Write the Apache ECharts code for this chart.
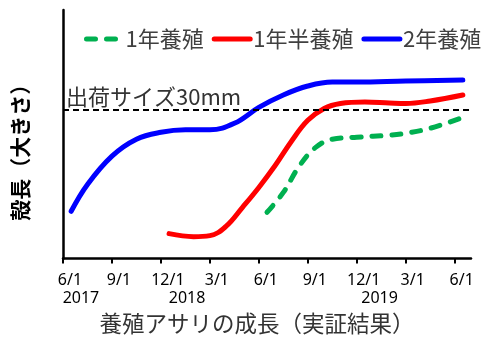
<!DOCTYPE html>
<html>
<head>
<meta charset="utf-8">
<script src="https://cdn.jsdelivr.net/npm/echarts@6/dist/echarts.min.js"></script>
<style>
  html, body { margin: 0; padding: 0; background: #fff; }
  #chart { width: 493px; height: 340px; }
</style>
</head>
<body>
<div id="chart"></div>
<script>
// Months elapsed since 2017-06-01, with shell length (mm)
const tickLabels = ['6/1', '9/1', '12/1', '3/1', '6/1', '9/1', '12/1', '3/1', '6/1'];
const yearLabels = ['2017', '2018', '2019'];
const yearLabelMonths = [1.1, 7.6, 19.4];

const seriesNames = ['1年養殖', '1年半養殖', '2年養殖'];

const oneYearMonths = [12.5, 13.5, 14.5, 15.5, 16.5, 18, 20, 21, 22.5, 24.5];
const oneYearSize   = [9.3, 13.3, 18.7, 22.4, 24.0, 24.4, 24.8, 25.2, 26.2, 28.4];

const oneHalfMonths = [6.5, 8, 9, 10, 11, 12, 13, 14, 15, 16, 17, 18.5, 20, 21, 22.5, 24.5];
const oneHalfSize   = [5.0, 4.4, 4.6, 6.5, 10.3, 14.3, 18.7, 23.6, 27.8, 30.2, 31.2, 31.5, 31.3, 31.2, 31.7, 32.9];

const twoYearMonths = [0.5, 1.5, 3, 4.5, 6, 7.5, 9, 10.5, 12, 13.5, 15, 16.5, 18, 21, 24.5];
const twoYearSize   = [9.5, 14.9, 20.6, 24.0, 25.4, 25.9, 25.9, 27.2, 30.4, 32.9, 34.7, 35.5, 35.5, 35.7, 35.9];

const shipSize = 30;
const shipLabel = '出荷サイズ30mm';
const xTitle = '養殖アサリの成長（実証結果）';
const yTitle = '殻長（大きさ）';

const zip = (xs, ys) => xs.map((x, i) => [x, ys[i]]);

const chart = echarts.init(document.getElementById('chart'), null, { renderer: 'canvas' });

const cjk = '"Noto Sans CJK JP", "Noto Sans", sans-serif';

chart.setOption({
  animation: false,
  backgroundColor: '#ffffff',
  legend: {
    left: 79,
    top: 23,
    itemWidth: 36,
    itemHeight: 14,
    itemGap: 8,
    itemStyle: { opacity: 0 },
    lineStyle: { width: 5, cap: 'round' },
    textStyle: { fontFamily: cjk, fontSize: 22, color: '#404040', padding: [0, 0, 0, -2] },
    data: seriesNames
  },
  grid: { left: 63, right: 22, top: 10, bottom: 78 },
  xAxis: [
    {
      type: 'value',
      min: 0,
      max: 25,
      interval: 3,
      position: 'bottom',
      axisLine: { lineStyle: { color: '#000', width: 2.5 } },
      axisTick: { show: true, inside: false, length: 5, lineStyle: { color: '#000', width: 2 } },
      splitLine: { show: false },
      axisLabel: {
        margin: 14,
        fontFamily: '"Noto Sans", sans-serif',
        fontSize: 16,
        color: '#000',
        padding: [0, 0, 0, 14],
        showMaxLabel: false,
        formatter: v => tickLabels[Math.round(v / 3)] || ''
      },
      name: xTitle,
      nameLocation: 'middle',
      nameGap: 54,
      nameTextStyle: { fontFamily: cjk, fontSize: 22.5, color: '#333', padding: [0, 20, 0, 0] }
    },
    {
      type: 'value',
      min: 0,
      max: 25,
      position: 'bottom',
      axisLine: { show: false },
      axisTick: { show: false },
      splitLine: { show: false },
      axisLabel: {
        customValues: yearLabelMonths,
        margin: 32,
        fontFamily: '"Noto Sans", sans-serif',
        fontSize: 16,
        color: '#000',
        formatter: v => {
          const i = yearLabelMonths.findIndex(m => Math.abs(m - v) < 1e-6);
          return i >= 0 ? yearLabels[i] : '';
        }
      }
    }
  ],
  yAxis: {
    type: 'value',
    min: 0,
    max: 50,
    axisLine: { show: true, lineStyle: { color: '#000', width: 2.5 } },
    axisTick: { show: false },
    axisLabel: { show: false },
    splitLine: { show: false },
    name: yTitle,
    nameLocation: 'middle',
    nameRotate: 90,
    nameGap: 32,
    nameTextStyle: { fontFamily: cjk, fontSize: 21, fontWeight: 'bold', color: '#000', padding: [0, 26, 0, 0] }
  },
  series: [
    {
      name: seriesNames[0],
      type: 'line',
      smooth: 0.4,
      symbol: 'none',
      showSymbol: false,
      data: zip(oneYearMonths, oneYearSize),
      itemStyle: { color: '#00B050' },
      lineStyle: { color: '#00B050', width: 5, type: [9, 11], cap: 'round' }
    },
    {
      name: seriesNames[1],
      type: 'line',
      smooth: 0.4,
      symbol: 'none',
      showSymbol: false,
      data: zip(oneHalfMonths, oneHalfSize),
      itemStyle: { color: '#FF0000' },
      lineStyle: { color: '#FF0000', width: 5, cap: 'round' }
    },
    {
      name: seriesNames[2],
      type: 'line',
      smooth: 0.4,
      symbol: 'none',
      showSymbol: false,
      data: zip(twoYearMonths, twoYearSize),
      itemStyle: { color: '#0000FF' },
      lineStyle: { color: '#0000FF', width: 5, cap: 'round' },
      markLine: {
        silent: true,
        symbol: 'none',
        animation: false,
        lineStyle: { color: '#000', width: 2, type: [6, 4] },
        label: {
          show: true,
          position: 'insideStartTop',
          formatter: shipLabel,
          fontFamily: cjk,
          fontSize: 22,
          color: '#333',
          distance: [3, 2]
        },
        data: [{ yAxis: shipSize }]
      }
    }
  ]
});
</script>
</body>
</html>
